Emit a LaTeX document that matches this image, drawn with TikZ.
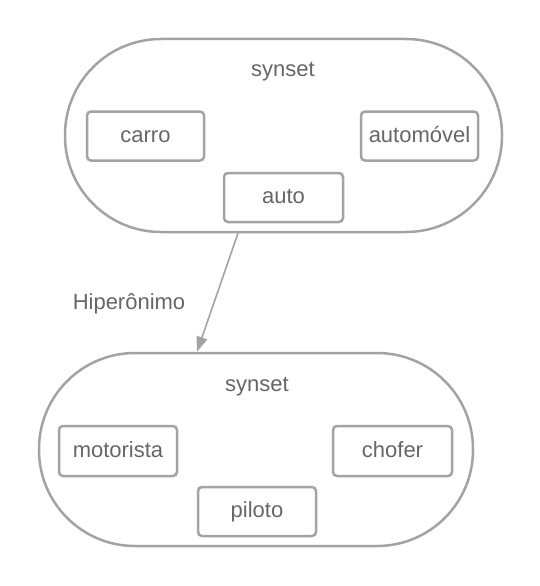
\documentclass[tikz,border=0pt]{standalone}
\usepackage{fontspec}
\setmainfont{Liberation Sans}
\usetikzlibrary{arrows.meta}
\definecolor{linegray}{HTML}{A3A3A3}
\definecolor{textgray}{HTML}{666666}
\begin{document}
\begin{tikzpicture}[x=1pt,y=-1pt,
  stadium/.style={draw=linegray,line width=2.5pt,rounded corners=96pt,inner sep=0pt},
  wordbox/.style={draw=linegray,line width=2.5pt,rounded corners=4pt,inner sep=0pt,
    text=textgray,font=\fontsize{22}{26}\selectfont,text height=15pt,text depth=3pt,
    minimum width=117pt,minimum height=49pt},
  lbl/.style={text=textgray,font=\fontsize{22}{26}\selectfont,inner sep=0pt,anchor=base},
  conn/.style={draw=linegray,line width=1.6pt,-{Triangle[length=15pt,width=11pt]}}]
\useasboundingbox (0,0) rectangle (540,586);
\node[stadium,minimum width=437pt,minimum height=193pt] (top) at (283.5,135.5) {};
\node[stadium,minimum width=434pt,minimum height=193pt] (bot) at (256,449.5) {};
\node[lbl] (s1) at (283,77) {synset};
\node[lbl] (s2) at (257,391) {synset};
\node[wordbox] (carro) at (145.5,136) {carro};
\node[wordbox] (automovel) at (419.5,136) {automóvel};
\node[wordbox,minimum width=119pt] (auto) at (283.5,197.5) {auto};
\node[wordbox,minimum width=118pt,minimum height=50pt] (motorista) at (118,451) {motorista};
\node[wordbox,minimum width=119pt,minimum height=50pt] (chofer) at (392.5,451) {chofer};
\node[wordbox,minimum width=118pt] (piloto) at (257,511.5) {piloto};
\node[lbl] (hip) at (129,309) {Hiperônimo};
\coordinate (a1) at ([xshift=-45.5pt]top.south);
\coordinate (a2) at ([xshift=-59pt]bot.north);
\draw[conn] (a1) -- (a2);
\end{tikzpicture}
\end{document}
